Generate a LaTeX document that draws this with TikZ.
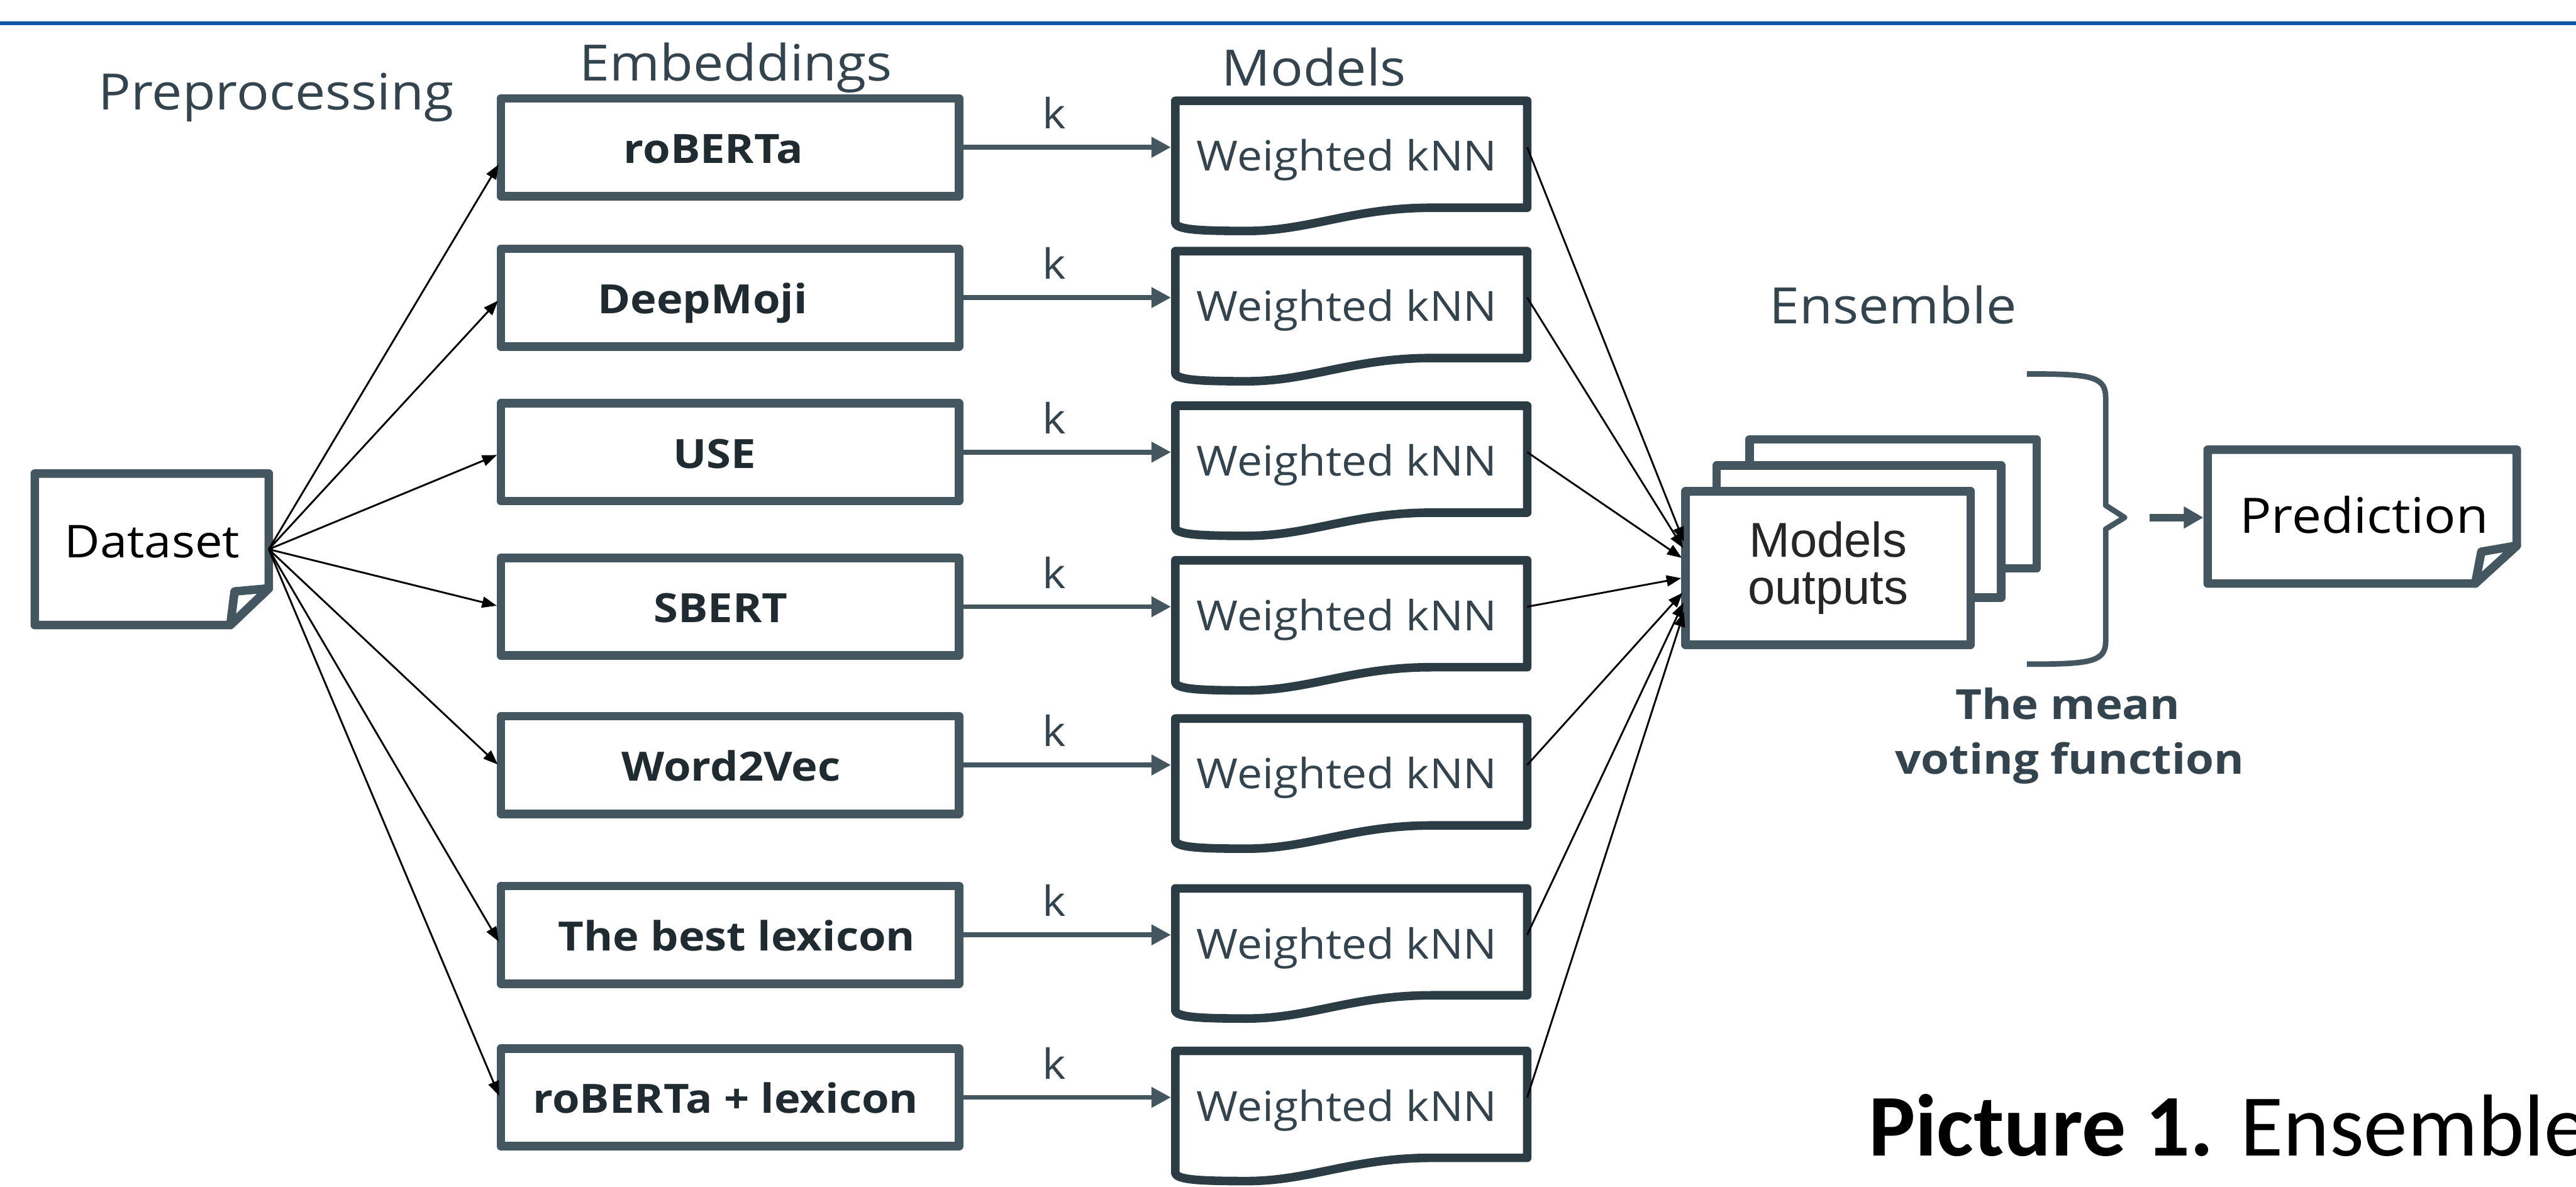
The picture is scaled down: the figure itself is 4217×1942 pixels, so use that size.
\documentclass[tikz,border=0pt]{standalone}
\usepackage{fontspec}
\usetikzlibrary{arrows.meta,calc}
\newfontfamily\osans[FakeStretch=1.08]{Open Sans}
\newfontfamily\osansb[FakeStretch=1.1]{Open Sans}
\newfontfamily\arialf{Liberation Sans}
\newfontfamily\calib{Carlito}
\definecolor{slate}{HTML}{44565F}
\definecolor{darkslate}{HTML}{2C3C45}
\definecolor{txtslate}{HTML}{33444E}
\definecolor{labblack}{HTML}{1F2B31}
\definecolor{topblue}{HTML}{0B57A4}
\begin{document}
\begin{tikzpicture}[x=0.25pt,y=-0.25pt,
  boxline/.style={draw=slate, line width=3.5pt, line join=round, fill=white},
  mline/.style={draw=darkslate, line width=3.5pt, line join=round, fill=white},
  ebox/.style={boxline, minimum width=187.5pt, minimum height=40pt, inner sep=0pt, outer sep=0pt},
  mnode/.style={draw=none, minimum width=144pt, minimum height=43.75pt, inner sep=0pt, outer sep=0pt},
  hdr/.style={font=\osans\fontsize{20.5}{24}\selectfont, text=txtslate, inner sep=0pt},
  elab/.style={font=\osansb\bfseries\fontsize{16.5}{20}\selectfont, text=labblack, inner sep=0pt},
  wtext/.style={font=\osans\fontsize{17}{20}\selectfont, text=txtslate, inner sep=0pt},
  ktext/.style={font=\osans\fontsize{17}{20}\selectfont, text=txtslate, inner sep=0pt},
  mtext/.style={font=\osansb\bfseries\fontsize{17}{20}\selectfont, text=txtslate, inner sep=0pt},
  karrow/.style={draw=slate, line width=2pt, -{Triangle[length=8pt,width=8pt]}, shorten >=1.75pt},
  fan/.style={draw=black, line width=0.75pt, -{Triangle[length=6pt,width=4.5pt]}, shorten >=1.75pt},
  parrow/.style={draw=slate, line width=3pt, -{Triangle[length=8pt,width=8.5pt]}, shorten >=1.75pt}
]
\clip (0,0) rectangle (4217,1942);
\useasboundingbox (0,0) rectangle (4217,1942);
\fill[white] (0,0) rectangle (4217,1942);

% top rule
\draw[topblue, line width=1.5pt] (0,38) -- (4217,38);

% headers
\node[hdr, anchor=base] (hpre) at (452,180) {Preprocessing};
\node[hdr, anchor=base] (hemb) at (1205,132) {Embeddings};
\node[hdr, anchor=base] (hmod) at (2151,140) {Models};
\node[hdr, anchor=base] (hens) at (3099,530) {Ensemble};

% Dataset
\node[draw=none, minimum width=95.75pt, minimum height=62pt, inner sep=0pt, outer sep=0pt] (ds) at (248.5,899) {};
\draw[boxline] (ds.north west) -- (ds.north east) -- ($(ds.south east)+(0,-60)$) -- ($(ds.south east)+(-63,0)$) -- (ds.south west) -- cycle;
\draw[boxline] ($(ds.south east)+(-63,0)$) -- ($(ds.south east)+(-56,-55)$) -- ($(ds.south east)+(0,-60)$) -- cycle;
\node[font=\osans\fontsize{18.5}{22}\selectfont, text=black, inner sep=0pt, anchor=base] (dstext) at (249,913) {Dataset};

% Models outputs stack
\node[boxline, minimum width=117.5pt, minimum height=52.75pt, inner sep=0pt, outer sep=0pt] (mo3) at (3099,824.5) {};
\node[boxline, minimum width=116.5pt, minimum height=54pt, inner sep=0pt, outer sep=0pt] (mo2) at (3043,870) {};
\node[boxline, minimum width=116.75pt, minimum height=62.75pt, inner sep=0pt, outer sep=0pt,
      font=\arialf\fontsize{20}{19.5}\selectfont, align=center, text=black!85] (mo) at (2992.5,929.5) {Models\\outputs};

% rows
\foreach \i/\c/\lab/\lx/\off/\dy in {
  1/241/roBERTa/1168/22/-36.5,
  2/487/DeepMoji/1150/0/-26.5,
  3/740/USE/1170/2/-12.5,
  4/993/SBERT/1180/0/15.5,
  5/1252/Word2Vec/1197/4/35.5,
  6/1530/The best lexicon/1206/17/50.5,
  7/1796/roBERTa + lexicon/1188/4/65.5}{
  \node[ebox] (e\i) at (1195,\c) {};
  \node[elab, anchor=base] (el\i) at (\lx,\c+26) {\lab};
  \node[mnode] (m\i) at (2212,\c+11.5) {};
  \draw[mline] (m\i.north west) -- (m\i.north east) -- (m\i.south east)
     -- ($(m\i.south west)+(419,0)$)
     .. controls ($(m\i.south west)+(290,0)$) and ($(m\i.south west)+(220,38)$) .. ($(m\i.south west)+(117,38)$)
     .. controls ($(m\i.south west)+(40,38)$) and ($(m\i.south west)+(0,36)$) .. ($(m\i.south west)+(0,24)$) -- cycle;
  \node[wtext, anchor=base] (mt\i) at (2205,\c+39) {Weighted kNN};
  \draw[karrow] (e\i.east) -- (e\i.east -| m\i.west)
     node[ktext, pos=0.44, anchor=base, yshift=7.5pt] {k};
  \draw[fan] (ds.east) -- ($(e\i.west)+(0,\off)$);
  \draw[fan] (m\i.east |- e\i.east) -- ($(mo.west)+(0,\dy)$);
}

% brace
\coordinate (btip) at (3478,847);
\draw[slate, line width=2.25pt, line join=round]
  (3318,612) .. controls (3420,612) and (3447,615) .. (3447,650) -- (3447,827) -- (btip)
  -- (3447,866) -- (3447,1050) .. controls (3447,1084) and (3420,1087) .. (3318,1087);

% Prediction
\node[draw=none, minimum width=126.5pt, minimum height=54.75pt, inner sep=0pt, outer sep=0pt] (pred) at (3867,845.5) {};
\draw[boxline] (pred.north west) -- (pred.north east) -- ($(pred.south east)+(0,-62)$) -- ($(pred.south east)+(-68,0)$) -- (pred.south west) -- cycle;
\draw[boxline] ($(pred.south east)+(-68,0)$) -- ($(pred.south east)+(-58,-52)$) -- ($(pred.south east)+(0,-62)$) -- cycle;
\node[font=\osans\fontsize{20}{24}\selectfont, text=black, inner sep=0pt, anchor=base] (ptext) at (3870,872) {Prediction};
\coordinate (bstart) at (3519,847);
\draw[parrow] (bstart) -- (bstart -| pred.west);

% mean voting function
\node[mtext, anchor=base] (mean1) at (3385,1177) {The mean};
\node[mtext, anchor=base] (mean2) at (3388,1267) {voting function};

% caption
\node[anchor=base west, inner sep=0pt, font=\calib\fontsize{36}{42}\selectfont, text=black] (cap) at (3058,1892) {\textbf{Picture 1.} Ensemble};
\end{tikzpicture}
\end{document}
